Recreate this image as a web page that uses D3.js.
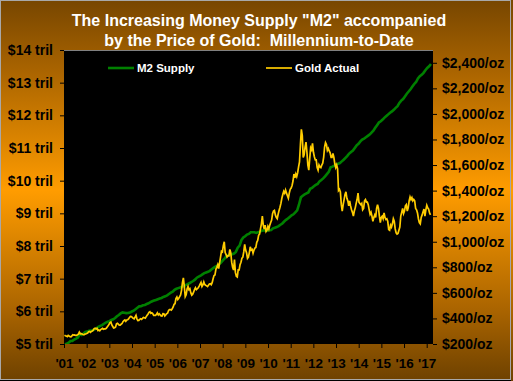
<!DOCTYPE html>
<html><head><meta charset="utf-8">
<script src="https://cdn.jsdelivr.net/npm/d3@7"></script>
<style>html,body{margin:0;padding:0;background:#fff;}svg{display:block;}</style>
</head><body>
<script>
const title = ['The Increasing Money Supply "M2" accompanied', 'by the Price of Gold:  Millennium-to-Date'];
const yearLabels = ["'01","'02","'03","'04","'05","'06","'07","'08","'09","'10","'11","'12","'13","'14","'15","'16","'17"];
const leftTicks = [5,6,7,8,9,10,11,12,13,14];
const rightTicks = [200,400,600,800,1000,1200,1400,1600,1800,2000,2200,2400];
const seriesNames = ["M2 Supply", "Gold Actual"];
const m2Start = 2001; // monthly, billions of dollars
const m2Values = [
4990,5010,5040,5093,5096,5137,5166,5200,5310,5277,5319,5366,
5379,5404,5415,5422,5452,5478,5523,5556,5577,5621,5655,5680,
5698,5735,5757,5794,5848,5888,5937,5966,5956,5945,5947,5963,
5995,6020,6064,6108,6153,6158,6185,6197,6224,6245,6279,6309,
6330,6350,6370,6390,6410,6440,6460,6490,6530,6570,6600,6660,
6690,6710,6730,6750,6770,6800,6830,6860,6890,6930,6970,7030,
7060,7090,7130,7170,7190,7210,7240,7290,7330,7370,7400,7440,
7490,7560,7620,7690,7720,7730,7750,7770,7820,7950,8010,8180,
8260,8300,8350,8370,8420,8420,8420,8400,8420,8440,8470,8480,
8470,8470,8480,8490,8540,8560,8580,8610,8650,8690,8750,8800,
8840,8890,8940,8970,9030,9090,9270,9490,9540,9580,9610,9640,
9750,9780,9830,9870,9900,9980,10020,10070,10130,10200,10270,10410,
10430,10460,10500,10520,10540,10590,10640,10700,10760,10830,10880,10920,
11000,11080,11130,11200,11260,11290,11330,11370,11410,11470,11530,11620,
11700,11780,11820,11870,11930,11980,12030,12080,12120,12170,12230,12280,
12380,12450,12500,12580,12660,12730,12800,12880,12960,13020,13130,13200,
13240,13300,13380,13450,13500,13570];
const goldStart = 2001; // twice a month, $/oz
const goldValues = [
268,264,262,258,267,262,258,256,264,272,270,271,267,268,272,277,293,280,281,278,274,272,277,278,
283,286,296,298,292,299,302,308,320,324,318,323,306,310,303,313,318,322,315,318,318,323,333,342,
354,367,372,349,337,325,327,333,358,362,355,347,347,355,360,375,383,388,378,388,390,396,408,415,
414,408,400,396,410,424,397,384,385,393,397,393,400,408,405,402,414,425,435,448,453,440,444,438,
424,425,424,431,444,427,436,428,420,419,438,437,420,428,437,441,460,470,470,465,475,490,510,515,
556,568,548,558,570,584,620,680,718,650,570,585,630,650,625,632,600,582,590,605,626,640,625,632,
640,652,668,682,650,662,686,666,660,655,650,660,670,672,664,680,710,736,740,784,800,820,790,835,
880,925,920,970,1000,915,900,880,890,890,940,915,840,800,780,860,760,730,725,780,780,820,840,870,
880,920,980,935,915,870,880,915,960,935,940,910,935,950,955,995,1010,1050,1060,1100,1140,1200,1130,1100,
1130,1080,1090,1120,1100,1130,1150,1170,1220,1240,1245,1210,1190,1180,1215,1245,1270,1300,1340,1370,1395,1380,1405,1380,
1360,1340,1380,1410,1420,1440,1475,1530,1500,1530,1510,1540,1585,1625,1760,1880,1830,1660,1680,1740,1780,1700,1600,1560,
1650,1735,1720,1770,1700,1665,1640,1640,1580,1560,1600,1585,1580,1600,1615,1660,1740,1775,1760,1715,1730,1710,1695,1660,
1660,1690,1660,1610,1580,1600,1570,1400,1410,1390,1290,1240,1290,1330,1370,1390,1340,1320,1280,1320,1280,1250,1230,1200,
1240,1265,1300,1330,1380,1310,1300,1290,1300,1250,1260,1320,1330,1310,1310,1290,1250,1215,1230,1200,1160,1190,1210,1190,
1260,1290,1260,1200,1150,1190,1200,1180,1225,1190,1175,1180,1160,1095,1090,1130,1115,1140,1180,1160,1100,1070,1060,1065,
1090,1115,1200,1230,1260,1220,1240,1280,1290,1240,1265,1320,1350,1330,1345,1320,1330,1320,1260,1250,1225,1180,1150,1140,
1190,1210,1235,1255,1200,1250,1285,1265,1255,1225,1210];

const W = 513, H = 381;
const L = 64, R = 433, T = 50, B = 344;

const svg = d3.select("body").append("svg").attr("width", W).attr("height", H)
  .style("font-family", "'Liberation Sans', Arial, sans-serif");

const defs = svg.append("defs");
const grad = defs.append("linearGradient").attr("id","bg").attr("x1",0).attr("y1",0).attr("x2",0).attr("y2",1);
[[0,"#774600"],[0.18,"#a86300"],[0.5,"#ff9c00"],[0.82,"#a86300"],[1,"#6e4100"]].forEach(s=>
  grad.append("stop").attr("offset",s[0]).attr("stop-color",s[1]));
defs.append("clipPath").attr("id","clip").append("rect").attr("x",L).attr("y",T).attr("width",R-L).attr("height",B-T);

svg.append("rect").attr("x",0).attr("y",0).attr("width",W).attr("height",H).attr("fill","url(#bg)");
svg.append("rect").attr("x",0.5).attr("y",0.5).attr("width",W-3).attr("height",H-2)
  .attr("fill","none").attr("stroke","#a8a8a8");
svg.append("line").attr("x1",0).attr("x2",W-2).attr("y1",H-0.5).attr("y2",H-0.5).attr("stroke","#000");

// plot area
svg.append("rect").attr("x",L).attr("y",T).attr("width",R-L).attr("height",B-T).attr("fill","#000");
svg.append("line").attr("x1",L).attr("x2",R).attr("y1",T+0.5).attr("y2",T+0.5).attr("stroke","#808080");

const x = d3.scaleLinear().domain([2001, 2017.55]).range([L, R]);
const xTick = d3.scalePoint().domain(yearLabels).range([L, 426.7]);
const yL = d3.scaleLinear().domain([5, 14]).range([B, T]);
const yR = d3.scaleLinear().domain([200, 2500]).range([B, T]);

const m2 = m2Values.map((v,i)=>({t: m2Start + (i+0.5)/12, v: v/1000}));
const gold = goldValues.map((v,i)=>({t: goldStart + (i+0.5)/24, v}));

const g = svg.append("g").attr("clip-path","url(#clip)");
g.append("path").datum(m2).attr("fill","none").attr("stroke","#008000").attr("stroke-width",2.6)
  .attr("d", d3.line().x(d=>x(d.t)).y(d=>yL(d.v)));
g.append("path").datum(gold).attr("fill","none").attr("stroke","#ffcc00").attr("stroke-width",1.7)
  .attr("stroke-linejoin","miter")
  .attr("d", d3.line().x(d=>x(d.t)).y(d=>yR(d.v)));

// axes
const axL = svg.append("g").attr("transform",`translate(${L},0)`)
  .call(d3.axisLeft(yL).tickValues(leftTicks).tickSize(4).tickPadding(7).tickFormat(d=>`$${d} tril`));
const axR = svg.append("g").attr("transform",`translate(${R},0)`)
  .call(d3.axisRight(yR).tickValues(rightTicks).tickSize(4).tickPadding(5).tickFormat(d=>`$${d3.format(",")(d)}/oz`));
const axB = svg.append("g").attr("transform",`translate(0,${B})`)
  .call(d3.axisBottom(xTick).tickSize(4).tickPadding(5));
[axL, axR, axB].forEach(a=>{
  a.select(".domain").remove();
  a.selectAll(".tick line").attr("stroke","#000");
  a.selectAll("text").attr("fill","#000").style("font-weight","bold").style("font-family","'Liberation Sans', Arial, sans-serif");
});
axL.selectAll("text").style("font-size","14px");
axR.selectAll("text").style("font-size","14px");
axB.selectAll("text").style("font-size","13.5px").attr("y",24).attr("dy",0);

// title
svg.append("g").selectAll("text").data(title).join("text")
  .attr("x", 259).attr("y",(d,i)=>26 + i*20).attr("text-anchor","middle")
  .attr("fill","#fff").style("font-weight","bold").style("font-size","16px")
  .style("white-space","pre").attr("xml:space","preserve").text(d=>d);

// legend
const leg = [{name: seriesNames[0], color:"#008000", x:108, w:2.6},{name: seriesNames[1], color:"#ffcc00", x:266, w:1.7}];
const lg = svg.append("g").selectAll("g").data(leg).join("g").attr("transform",d=>`translate(${d.x},68)`);
lg.append("line").attr("x1",0).attr("x2",26).attr("stroke",d=>d.color).attr("stroke-width",d=>d.w);
lg.append("text").attr("x",29).attr("y",4).attr("fill","#fff").style("font-weight","bold").style("font-size","11.5px").text(d=>d.name);
</script>
</body></html>
